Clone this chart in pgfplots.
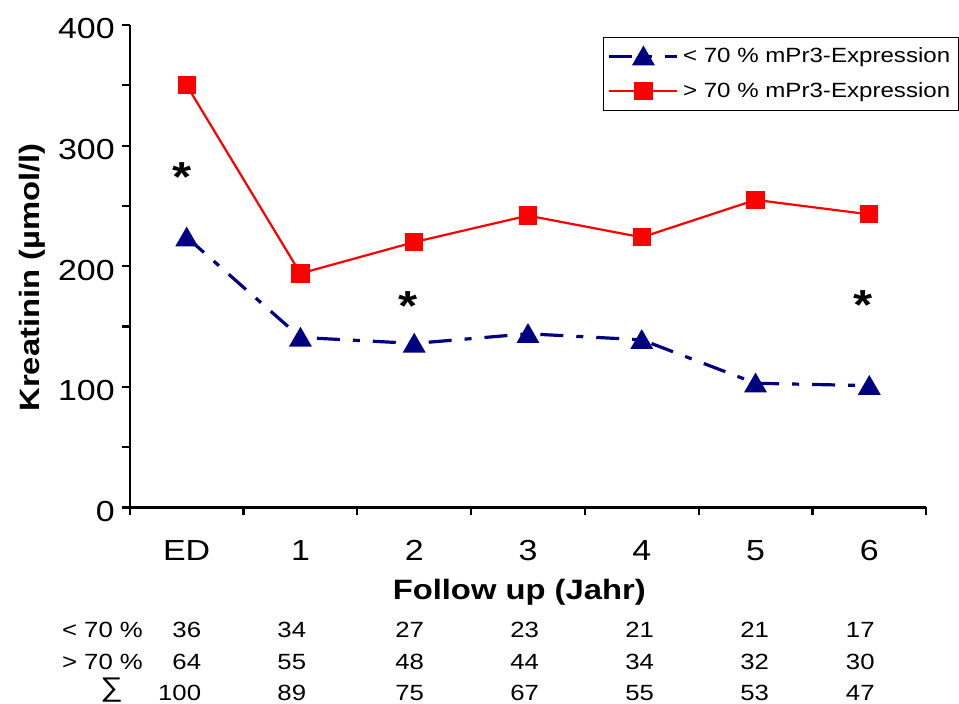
\documentclass[border=0pt]{standalone}
\usepackage{fontspec}
\setmainfont{Liberation Sans}[FakeStretch=1.17]
\usepackage{pgfplots}
\pgfplotsset{compat=1.18}
\definecolor{navyb}{RGB}{0,0,128}
\definecolor{redb}{RGB}{255,0,0}
\newcommand\tickfont{\fontsize{14.5}{17}\selectfont}
\newcommand\labfont{\fontsize{14}{17}\selectfont\bfseries}
\newcommand\legfont{\fontsize{10.3}{12}\selectfont}
\newcommand\tabfont{\fontsize{11}{13}\selectfont}
\newcommand\starfont{\fontsize{21}{21}\selectfont\bfseries}
\begin{document}
\begin{tikzpicture}
\useasboundingbox (-64.9pt,-98.25pt) rectangle (414.6pt,253.75pt);
\begin{axis}[
  scale only axis, width=398.2pt, height=241.25pt,
  xmin=-0.5, xmax=6.5, ymin=0, ymax=400,
  axis lines*=left,
  axis line style={line width=1.1pt, black},
  every tick/.style={black, line width=1.1pt},
  tick align=outside,
  major tick length=4pt, minor tick length=4pt,
  xtick={-0.5,0.5,...,6.5},
  xticklabels={ED,1,2,3,4,5,6,{}},
  xticklabel style={font=\tickfont, xshift=28.44pt, yshift=-9pt},
  ytick={0,100,...,400},
  minor ytick={50,150,250,350},
  yticklabel style={font=\tickfont, yshift=-2pt},
  /pgf/number format/assume math mode=true,
  xlabel={Follow up (Jahr)},
  xlabel style={at={(axis description cs:0.489,-0.1903)}, anchor=base, font=\labfont},
  ylabel={Kreatinin (µmol/l)},
  ylabel style={at={(axis description cs:-0.1128,0.4767)}, anchor=base, font=\labfont},
  clip=false,
  legend style={at={(rel axis cs:0.5946,0.9757)}, anchor=north west, draw=black, line width=0.5pt,
    font=\legfont, inner xsep=2pt, inner ysep=3pt, row sep=4.5pt},
  legend cell align=left,
  legend image code/.code={\draw[mark repeat=2,mark phase=2,#1] plot coordinates {(0pt,0pt) (17pt,0pt) (34pt,0pt)};},
]
\addplot[navyb, line width=1.6pt, dash pattern=on 11.5pt off 6.5pt on 3.5pt off 6.5pt,
  mark=triangle*, mark size=5pt, mark options={solid, fill=navyb, draw=navyb, yshift=-1.25pt}]
  coordinates {(0,224) (1,141) (2,136) (3,144) (4,139) (5,103) (6,101)};
\addlegendentry{< 70 \% mPr3-Expression}
\addplot[redb, line width=1.1pt,
  mark=square*, mark size=4pt, mark options={solid, fill=redb, draw=redb}]
  coordinates {(0,350) (1,194) (2,220) (3,242) (4,224) (5,255) (6,243)};
\addlegendentry{> 70 \% mPr3-Expression}
\node[font=\starfont, yshift=-4.5pt] at (axis cs:-0.044,281.2) {*};
\node[font=\starfont, yshift=-4.5pt] at (axis cs:1.948,174.8) {*};
\node[font=\starfont, yshift=-4.5pt] at (axis cs:5.947,175.4) {*};
\end{axis}
\begin{scope}[every node/.style={font=\tabfont, inner sep=0pt}]
\node[anchor=base east] at (6.75pt,-65.1pt) {< 70 \%};
\node[anchor=base east] at (6.75pt,-80.9pt) {> 70 \%};
\node[anchor=base, font=\fontsize{13.5}{14}\selectfont] at (-9.05pt,-94.6pt) {∑};
\foreach \x/\a/\b/\c in {35.85/36/64/100, 88.35/34/55/89, 147.25/27/48/75, 204.75/23/44/67, 262.25/21/34/55, 319.75/21/32/53, 372.6/17/30/47} {
  \node[anchor=base east] at (\x pt,-65.1pt) {\a};
  \node[anchor=base east] at (\x pt,-80.9pt) {\b};
  \node[anchor=base east] at (\x pt,-96.4pt) {\c};
}
\end{scope}
\end{tikzpicture}
\end{document}
